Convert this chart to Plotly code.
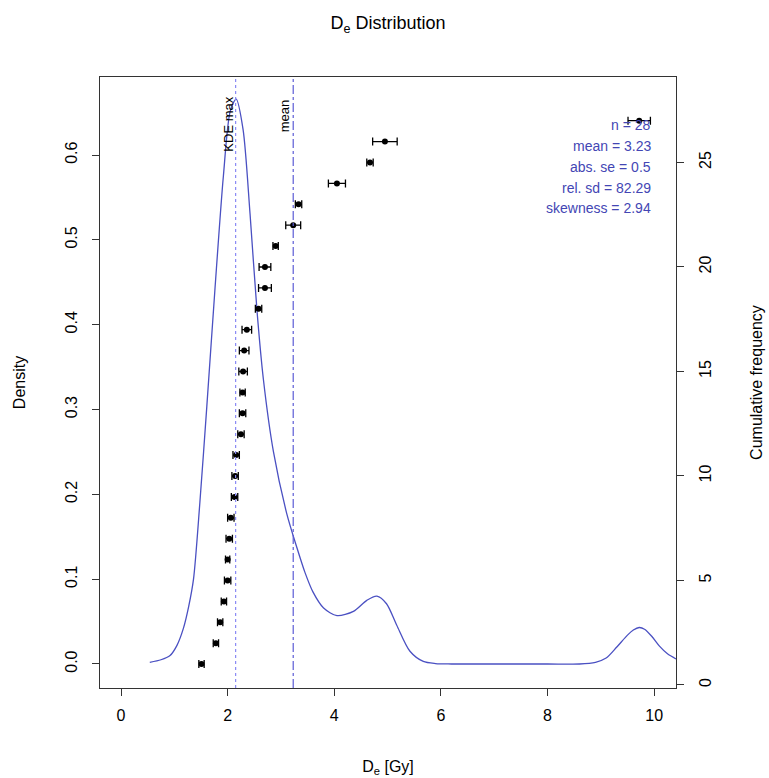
import plotly.graph_objects as go

# ---- data ----
# KDE curve (De [Gy], density)
kde_x = [0.54, 0.75, 0.92, 1.05, 1.17, 1.27, 1.36, 1.48, 1.61, 1.76, 1.92, 2.05, 2.16,
         2.29, 2.42, 2.55, 2.67, 2.86, 3.11, 3.30, 3.45, 3.60, 3.80, 4.05, 4.36, 4.61,
         4.80, 4.98, 5.17, 5.42, 5.67, 5.90, 6.2, 7.0, 8.0, 8.6, 8.9, 9.1, 9.3, 9.5,
         9.61, 9.72, 9.82, 9.95, 10.1, 10.25, 10.41]
kde_y = [0.002, 0.005, 0.010, 0.022, 0.042, 0.068, 0.100, 0.191, 0.304, 0.440, 0.575,
         0.652, 0.666, 0.630, 0.531, 0.417, 0.336, 0.250, 0.177, 0.137, 0.108, 0.085,
         0.066, 0.057, 0.062, 0.075, 0.080, 0.071, 0.046, 0.015, 0.003, 0.0005, 0.0,
         0.0, 0.0, 0.0, 0.002, 0.007, 0.020, 0.034, 0.040, 0.043, 0.041, 0.033, 0.021,
         0.012, 0.006]

# equivalent doses (sorted) with their errors, cumulative frequency rank
de_values = [1.51, 1.78, 1.86, 1.93, 2.00, 2.00, 2.03, 2.06, 2.13, 2.14, 2.16, 2.25, 2.28,
             2.28, 2.29, 2.31, 2.36, 2.58, 2.70, 2.70, 2.90, 3.23, 3.33, 4.05, 4.67, 4.95, 9.72]
de_errors = [0.05, 0.05, 0.05, 0.05, 0.06, 0.04, 0.06, 0.06, 0.06, 0.06, 0.06, 0.06, 0.06,
             0.05, 0.08, 0.09, 0.09, 0.06, 0.12, 0.11, 0.05, 0.14, 0.06, 0.16, 0.06, 0.23, 0.21]
cum_freq = list(range(1, len(de_values) + 1))

kde_max = 2.15
mean_de = 3.23
stats_lines = ["n = 28", "mean = 3.23", "abs. se = 0.5", "rel. sd = 82.29", "skewness = 2.94"]

x_ticks = [0, 2, 4, 6, 8, 10]
y_ticks = [0.0, 0.1, 0.2, 0.3, 0.4, 0.5, 0.6]
y2_ticks = [0, 5, 10, 15, 20, 25]

# ---- styling ----
W, H = 769, 778
L, R, T, B = 100, 676, 77, 688
line_col = "#4A50C2"
FONT = "Liberation Sans, Arial, sans-serif"

fig = go.Figure()
fig.add_trace(go.Scatter(x=kde_x, y=kde_y, mode="lines",
                         line=dict(color=line_col, width=1.3, shape="spline", smoothing=0.8),
                         yaxis="y", showlegend=False, hoverinfo="skip"))
fig.add_trace(go.Scatter(x=de_values, y=cum_freq, mode="markers",
                         marker=dict(color="black", size=6),
                         error_x=dict(type="data", array=de_errors, color="black",
                                      thickness=1.3, width=4),
                         yaxis="y2", showlegend=False))

# vertical reference lines
fig.add_shape(type="line", x0=kde_max, x1=kde_max, y0=0, y1=1, xref="x", yref="paper",
              line=dict(color="#8A8AF4", width=1.2, dash="dot"))
fig.add_shape(type="line", x0=mean_de, x1=mean_de, y0=0, y1=1, xref="x", yref="paper",
              line=dict(color="#5C5CD6", width=1.2, dash="dashdot"))

def py(px):
    return (B - px) / (B - T)

fig.add_annotation(x=kde_max, xref="x", y=py(95), yref="paper", text="KDE max",
                   textangle=-90, showarrow=False, xanchor="right", yanchor="top",
                   xshift=2, font=dict(family=FONT, size=13, color="black"))
fig.add_annotation(x=mean_de, xref="x", y=py(97), yref="paper", text="mean",
                   textangle=-90, showarrow=False, xanchor="right", yanchor="top",
                   xshift=1, font=dict(family=FONT, size=13, color="black"))

stat_y = [125, 146, 167, 188, 208]
for txt, yy in zip(stats_lines, stat_y):
    fig.add_annotation(x=(653 - L) / (R - L), xref="paper", y=py(yy), yref="paper",
                       text=txt, showarrow=False, xanchor="right", yanchor="middle",
                       font=dict(family=FONT, size=14, color="#4346B4"))

axis_common = dict(showline=True, linecolor="#333333", linewidth=1.3, ticks="outside",
                   ticklen=7, tickwidth=1.3, tickcolor="#333333", showgrid=False,
                   zeroline=False, automargin=False,
                   tickfont=dict(family=FONT, size=16, color="black"))

fig.update_layout(
    width=W, height=H,
    margin=dict(l=L, r=W - R, t=T, b=H - B, pad=0, autoexpand=False),
    plot_bgcolor="white", paper_bgcolor="white",
    font=dict(family=FONT, size=16, color="black"),
    title=dict(text="D<sub>e</sub> Distribution", x=(L + R) / 2 / W, xanchor="center",
               y=1 - 23 / H, yanchor="middle", font=dict(family=FONT, size=18, color="black")),
    xaxis=dict(range=[-0.394, 10.41], tickvals=x_ticks, mirror=True,
               title=dict(text="D<sub>e</sub> [Gy]", standoff=37,
                          font=dict(family=FONT, size=16)),
               ticklabelstandoff=6, **axis_common),
    yaxis=dict(range=[-0.0283, 0.692], tickvals=y_ticks, tickformat=".1f", tickangle=-90,
               mirror=True,
               title=dict(text="Density", standoff=33, font=dict(family=FONT, size=16)),
               ticklabelstandoff=8, **axis_common),
    yaxis2=dict(range=[-0.144, 29.09], tickvals=y2_ticks, tickangle=-90, overlaying="y",
                side="right",
                title=dict(text="Cumulative frequency", standoff=37,
                           font=dict(family=FONT, size=16)),
                ticklabelstandoff=8, **axis_common),
)

fig.write_html("out.html")
